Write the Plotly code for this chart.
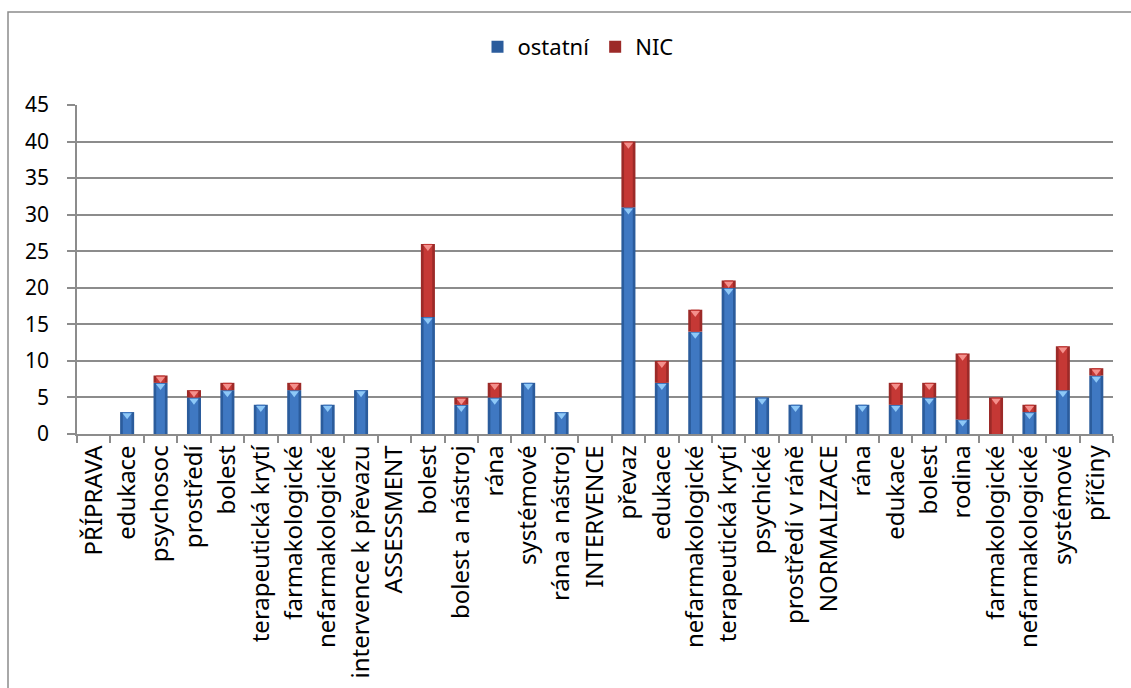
import plotly.graph_objects as go

categories = ["PŘÍPRAVA", "edukace", "psychosoc", "prostředí", "bolest", "terapeutická krytí",
              "farmakologické", "nefarmakologické", "intervence k převazu", "ASSESSMENT", "bolest",
              "bolest a nástroj", "rána", "systémové", "rána a nástroj", "INTERVENCE", "převaz",
              "edukace", "nefarmakologické", "terapeutická krytí", "psychické", "prostředí v ráně",
              "NORMALIZACE", "rána", "edukace", "bolest", "rodina", "farmakologické",
              "nefarmakologické", "systémové", "příčiny"]
ostatni = [0, 3, 7, 5, 6, 4, 6, 4, 6, 0, 16, 4, 5, 7, 3, 0, 31, 7, 14, 20, 5, 4, 0, 4, 4, 5, 2, 0, 3, 6, 8]
nic = [0, 0, 1, 1, 1, 0, 1, 0, 0, 0, 10, 1, 2, 0, 0, 0, 9, 3, 3, 1, 0, 0, 0, 0, 3, 2, 9, 5, 1, 6, 1]
y_ticks = [0, 5, 10, 15, 20, 25, 30, 35, 40, 45]

x = list(range(len(categories)))
FONT = "Noto Sans"

W, H = 1131, 688
ML, MR, MT, MB = 77, 18, 105, 254
PW, PH = W - ML - MR, H - MT - MB
YMAX = 45
SHIFT = 3.2 * YMAX / PH  # few pixels downwards for the top highlight marks

fig = go.Figure()

# ostatní: outer (darker edge) + inner (lighter core)
fig.add_trace(go.Bar(x=x, y=ostatni, base=[0] * len(x), width=0.42, name="ostatní",
                     marker=dict(color="#2b5c9c", line=dict(width=0)), hoverinfo="skip"))
fig.add_trace(go.Bar(x=x, y=ostatni, base=[0] * len(x), width=0.26, showlegend=False,
                     marker=dict(color="#3f78c2", line=dict(width=0)), hoverinfo="skip"))
# NIC
fig.add_trace(go.Bar(x=x, y=nic, base=ostatni, width=0.42, name="NIC",
                     marker=dict(color="#9c2a28", line=dict(width=0)), hoverinfo="skip"))
fig.add_trace(go.Bar(x=x, y=nic, base=ostatni, width=0.26, showlegend=False,
                     marker=dict(color="#c53835", line=dict(width=0)), hoverinfo="skip"))

# small light triangles at the top of every segment (on a slightly shifted twin axis)
top_o = [v if v > 0 else None for v in ostatni]
top_n = [o + n if n > 0 else None for o, n in zip(ostatni, nic)]
fig.add_trace(go.Scatter(x=x, y=top_o, mode="markers", yaxis="y2", showlegend=False,
                         marker=dict(symbol="triangle-down", size=8, color="#8ec8f7",
                                     line=dict(width=0)), hoverinfo="skip"))
fig.add_trace(go.Scatter(x=x, y=top_n, mode="markers", yaxis="y2", showlegend=False,
                         marker=dict(symbol="triangle-down", size=8, color="#f4908c",
                                     line=dict(width=0)), hoverinfo="skip"))

fig.update_layout(
    width=W, height=H,
    margin=dict(l=ML, r=MR, t=MT, b=MB),
    barmode="overlay",
    paper_bgcolor="white", plot_bgcolor="white",
    font=dict(family=FONT, color="black"),
    legend=dict(orientation="h", x=(578 - ML) / PW, xanchor="center",
                y=1 + (MT - 47) / PH, yanchor="middle",
                font=dict(size=22, family=FONT), traceorder="normal",
                itemwidth=30),
    showlegend=True,
    yaxis2=dict(overlaying="y", range=[SHIFT, YMAX + SHIFT], visible=False,
                automargin=False, fixedrange=True),
)

fig.update_xaxes(
    range=[-0.5, len(x) - 0.5], automargin=False,
    tickmode="array", tickvals=x, ticktext=categories, tickangle=-90,
    tickfont=dict(size=24, family=FONT, color="black"),
    ticks="", showgrid=False, zeroline=False,
    showline=True, linecolor="#8c8c8c", linewidth=1.5,
    minor=dict(tickmode="array", tickvals=[i - 0.5 for i in range(len(x) + 1)],
               ticks="outside", ticklen=7, tickcolor="#8c8c8c", tickwidth=1.5, showgrid=False),
)
fig.update_yaxes(selector=dict(), row=None, col=None)
fig.layout.yaxis.update(
    range=[0, YMAX], tickmode="array", tickvals=y_ticks, automargin=False,
    tickfont=dict(size=21, family=FONT, color="black"),
    ticks="outside", ticklen=8, tickcolor="#8c8c8c", tickwidth=1.5,
    showgrid=True, gridcolor="#8c8c8c", gridwidth=1.5,
    showline=True, linecolor="#8c8c8c", linewidth=1.5, zeroline=False,
    ticklabelstandoff=14,
)

# outer chart border
fig.add_shape(type="rect", xref="paper", yref="paper",
              x0=(8 - ML) / PW, x1=1.2, y0=-1.0, y1=1 + (MT - 12) / PH,
              line=dict(color="#8c8c8c", width=1.5), fillcolor="rgba(0,0,0,0)", layer="below")

fig.write_html("out.html")
